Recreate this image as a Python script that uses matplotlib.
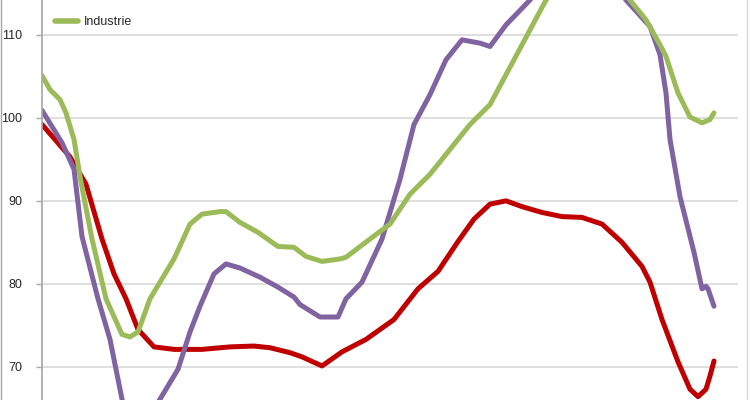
import matplotlib.pyplot as plt
from matplotlib.lines import Line2D

plt.rcParams['font.family'] = ['Liberation Sans', 'DejaVu Sans']

# month index (the visible part of the chart has no x labels)
red_t = [0, 7, 11, 15, 18, 21, 24, 28, 33, 40, 47, 53, 57, 62, 65, 70, 75, 81, 88, 94,
         99, 104, 108, 112, 116, 120, 125, 130, 135, 140, 145, 150, 152, 155, 159, 162,
         164, 166, 167, 168]
red_v = [99.2, 95.3, 92.0, 85.4, 81.2, 78.2, 74.5, 72.4, 72.1, 72.1, 72.4, 72.5, 72.3,
         71.7, 71.2, 70.1, 71.8, 73.3, 75.7, 79.4, 81.5, 85.1, 87.8, 89.6, 90.0, 89.3,
         88.6, 88.1, 88.0, 87.2, 85.0, 82.1, 80.2, 75.7, 70.6, 67.3, 66.4, 67.3, 68.9, 70.7]

purple_t = [0, 5, 8, 10, 14, 17, 20, 22, 23.5, 25, 27.5, 29.5, 34, 37, 39.5, 43, 46, 49.5,
            54.5, 59, 63, 64.5, 69.5, 74, 76, 80, 85, 89.5, 93, 97, 101, 105, 109.5, 112,
            116, 122, 128, 134.5, 141, 146, 152, 154.5, 156, 157, 159.5, 163, 165, 166,
            166.5, 168]
purple_v = [100.9, 97.0, 93.8, 85.7, 78.2, 73.3, 66.1, 63.0, 61.5, 62.0, 64.2, 66.1, 69.7,
            74.2, 77.3, 81.2, 82.4, 81.9, 80.8, 79.6, 78.4, 77.5, 76.0, 76.0, 78.2, 80.2,
            85.4, 92.6, 99.2, 102.8, 107.0, 109.4, 109.0, 108.6, 111.2, 114.2, 117.5, 119.0,
            117.5, 114.2, 111.0, 107.6, 103.0, 97.4, 90.5, 83.8, 79.4, 79.7, 79.4, 77.3]

green_t = [0, 2, 4.5, 6, 8, 9.5, 12.5, 16, 20, 22, 24, 27, 33, 37, 40, 44.5, 46, 49.5, 54,
           59, 63, 66, 70, 74.5, 76, 82, 87, 92, 97, 102, 107, 112, 118, 126, 132, 137,
           142, 147, 151, 154.5, 156, 159, 162, 165, 167, 168]
green_v = [105.1, 103.4, 102.2, 100.6, 97.4, 92.9, 85.4, 78.2, 73.9, 73.6, 74.2, 78.2, 83.0,
           87.2, 88.4, 88.7, 88.7, 87.4, 86.2, 84.5, 84.4, 83.3, 82.7, 83.0, 83.2, 85.4,
           87.2, 90.8, 93.2, 96.2, 99.2, 101.6, 107.0, 114.2, 117.5, 118.5, 117.0, 114.2,
           111.8, 108.8, 107.4, 103.0, 100.1, 99.4, 99.8, 100.6]

labels = ['Totaal', 'Diensten', 'Industrie']
yticks = [70, 80, 90, 100, 110]

fig = plt.figure(figsize=(7.5, 4), dpi=100)
ax = fig.add_axes([42 / 750, 0, 696 / 750, 1])

lw = 3.6
ax.plot(red_t, red_v, color='#C00000', lw=lw, label=labels[0], solid_capstyle='round')
ax.plot(purple_t, purple_v, color='#8064A2', lw=lw, label=labels[1], solid_capstyle='round')
ax.plot(green_t, green_v, color='#9BBB59', lw=lw, label=labels[2], solid_capstyle='round')

ax.set_xlim(0, 174)
ax.set_ylim(66.0, 114.2)
ax.set_yticks(yticks)
ax.set_xticks([])
ax.grid(axis='y', color='#D9D9D9', lw=1.2)
ax.set_axisbelow(True)
for s in ['top', 'right', 'bottom']:
    ax.spines[s].set_visible(False)
ax.spines['left'].set_color('#A6A6A6')
ax.spines['left'].set_linewidth(1.2)
ax.tick_params(axis='y', length=4, width=1, color='#A6A6A6', labelsize=9,
               labelcolor='#262626', pad=10)

# legend sits partly above the visible area, like the cropped original
leg = ax.legend(loc='lower left', bbox_to_anchor=(55 / 750, 1 - 28 / 400),
                bbox_transform=fig.transFigure, frameon=False, fontsize=9,
                handlelength=1.8, handletextpad=0.5, borderpad=0, borderaxespad=0,
                labelspacing=1.1)
for h in leg.get_lines():
    h.set_linewidth(4)
for t in leg.get_texts():
    t.set_color('#262626')

# chart area border, visible at left and right
fig.add_artist(Line2D([0.5 / 750, 0.5 / 750], [0, 1], color='#A6A6A6', lw=1,
                      transform=fig.transFigure))
fig.add_artist(Line2D([747 / 750, 747 / 750], [0, 1], color='#D9D9D9', lw=1,
                      transform=fig.transFigure))

fig.savefig('out.png', dpi=100)
